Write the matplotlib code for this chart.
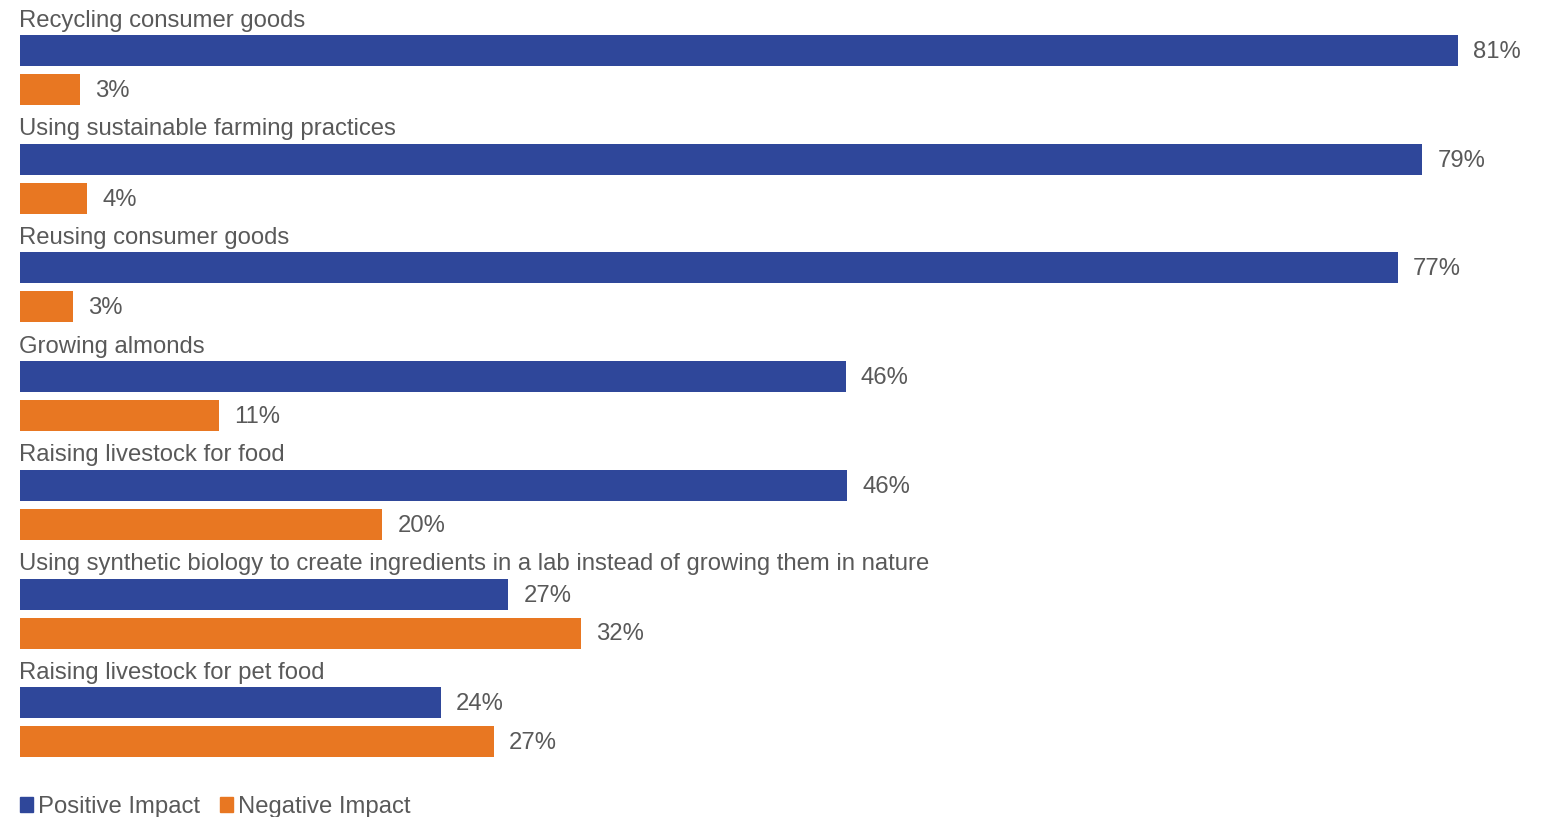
import matplotlib.pyplot as plt
from matplotlib.patches import Patch

plt.rcParams['font.family'] = ['Liberation Sans', 'DejaVu Sans']

categories = ['Recycling consumer goods',
              'Using sustainable farming practices',
              'Reusing consumer goods',
              'Growing almonds',
              'Raising livestock for food',
              'Using synthetic biology to create ingredients in a lab instead of growing them in nature',
              'Raising livestock for pet food']
positive = [81.0, 79.0, 77.6, 46.5, 46.6, 27.5, 23.7]
negative = [3.4, 3.8, 3.0, 11.2, 20.4, 31.6, 26.7]
positive_labels = ['81%', '79%', '77%', '46%', '46%', '27%', '24%']
negative_labels = ['3%', '4%', '3%', '11%', '20%', '32%', '27%']

blue = '#2F479A'
orange = '#E87722'
grey = '#595959'
fs = 17.2

fig = plt.figure(figsize=(15.45, 8.17), dpi=100)
# axes in pixel-like y units, x in percent
ax = fig.add_axes([20 / 1545, 0, 1525 / 1545, 1])
ax.set_xlim(0, 1525 / 17.753)
ax.set_ylim(817, 0)
ax.axis('off')

step = 108.7
for i, cat in enumerate(categories):
    yb = 50.5 + i * step
    yo = yb + 39
    ax.barh(yb, positive[i], height=31, color=blue, edgecolor='none')
    ax.barh(yo, negative[i], height=31, color=orange, edgecolor='none')
    ax.text(-0.05, yb - 30, cat, fontsize=fs, color=grey, va='center', ha='left')
    ax.text(positive[i] + 0.85, yb + 1.5, positive_labels[i], fontsize=fs, color=grey, va='center')
    ax.text(negative[i] + 0.85, yo + 1.5, negative_labels[i], fontsize=fs, color=grey, va='center')

handles = [Patch(color=blue, label='Positive Impact'),
           Patch(color=orange, label='Negative Impact')]
fig.legend(handles=handles, loc='center left', bbox_to_anchor=(20 / 1545, 10 / 817), ncol=2,
           frameon=False, fontsize=fs, labelcolor=grey, handlelength=0.55, handleheight=0.55,
           handletextpad=0.2, columnspacing=0.85, borderpad=0, borderaxespad=0)

fig.savefig('out.png', dpi=100)
